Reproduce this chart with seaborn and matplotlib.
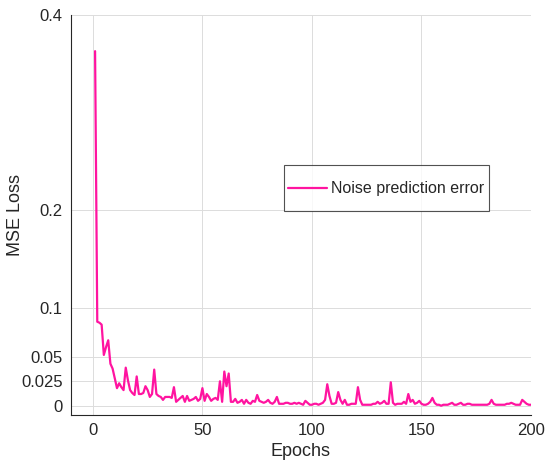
import numpy as np
import pandas as pd
import matplotlib
matplotlib.use("Agg")
import matplotlib.pyplot as plt
from matplotlib.legend_handler import HandlerLine2D
import seaborn as sns

# MSE loss per epoch
epochs = list(range(1, 201))
loss = [
    0.363, 0.086, 0.085, 0.083, 0.052, 0.060, 0.067, 0.043, 0.038, 0.028,
    0.018, 0.023, 0.019, 0.016, 0.039, 0.026, 0.016, 0.013, 0.011, 0.030,
    0.012, 0.012, 0.013, 0.020, 0.016, 0.009, 0.012, 0.037, 0.012, 0.010,
    0.009, 0.006, 0.009, 0.009, 0.009, 0.008, 0.019, 0.004, 0.006, 0.008,
    0.010, 0.004, 0.010, 0.005, 0.006, 0.007, 0.009, 0.005, 0.007, 0.018,
    0.005, 0.012, 0.009, 0.005, 0.007, 0.008, 0.006, 0.025, 0.004, 0.035,
    0.020, 0.033, 0.004, 0.004, 0.007, 0.003, 0.004, 0.006, 0.002, 0.006,
    0.003, 0.002, 0.005, 0.004, 0.011, 0.005, 0.004, 0.003, 0.004, 0.006,
    0.003, 0.002, 0.004, 0.009, 0.002, 0.002, 0.002, 0.003, 0.003, 0.002,
    0.002, 0.003, 0.002, 0.003, 0.002, 0.001, 0.005, 0.003, 0.001, 0.001,
    0.002, 0.002, 0.001, 0.002, 0.003, 0.006, 0.022, 0.010, 0.002, 0.002,
    0.003, 0.014, 0.006, 0.002, 0.006, 0.001, 0.001, 0.002, 0.002, 0.002,
    0.019, 0.006, 0.001, 0.001, 0.001, 0.001, 0.001, 0.002, 0.002, 0.004,
    0.002, 0.003, 0.005, 0.002, 0.002, 0.024, 0.003, 0.001, 0.002, 0.002,
    0.002, 0.004, 0.002, 0.012, 0.004, 0.006, 0.002, 0.003, 0.005, 0.002,
    0.001, 0.001, 0.002, 0.004, 0.008, 0.003, 0.001, 0.001, 0.000, 0.001,
    0.001, 0.001, 0.002, 0.003, 0.001, 0.001, 0.002, 0.003, 0.001, 0.001,
    0.002, 0.002, 0.001, 0.001, 0.001, 0.001, 0.001, 0.001, 0.001, 0.001,
    0.002, 0.006, 0.002, 0.001, 0.001, 0.001, 0.001, 0.001, 0.002, 0.002,
    0.003, 0.002, 0.001, 0.001, 0.001, 0.006, 0.004, 0.002, 0.001, 0.001,
]
series_name = "Noise prediction error"
x_ticks = [0, 50, 100, 150, 200]
y_ticks = [0, 0.025, 0.05, 0.1, 0.2, 0.4]
y_tick_labels = ["0", "0.025", "0.05", "0.1", "0.2", "0.4"]


class LoweredLine(HandlerLine2D):
    # a tall legend row puts the handle above the text; move it down to the text
    def create_artists(self, legend, orig_handle, xdescent, ydescent,
                       width, height, fontsize, trans):
        artists = super().create_artists(legend, orig_handle, xdescent, ydescent,
                                         width, height, fontsize, trans)
        for a in artists:
            a.set_ydata(np.asarray(a.get_ydata()) - 0.45 * fontsize)
        return artists


df = pd.DataFrame({"Epochs": epochs, "MSE Loss": loss, "series": series_name})

sns.set_style("white")
plt.rcParams["font.family"] = ["Liberation Sans", "DejaVu Sans"]

fig = plt.figure(figsize=(5.46, 4.62), dpi=100)
ax = fig.add_axes([0.130, 0.1017, 0.8425, 0.8658])

sns.lineplot(data=df, x="Epochs", y="MSE Loss", hue="series",
             palette=["#ff14a0"], linewidth=1.6, ax=ax)

ax.set_xlim(-10, 200)
ax.set_ylim(-0.0095, 0.4)
ax.set_xticks(x_ticks)
ax.set_yticks(y_ticks)
ax.set_yticklabels(y_tick_labels)

ax.grid(True, color="#dcdcdc", linewidth=0.7)
ax.set_axisbelow(True)
for side in ["top", "right"]:
    ax.spines[side].set_visible(False)
for side in ["left", "bottom"]:
    ax.spines[side].set_color("#262626")
    ax.spines[side].set_linewidth(0.8)

ax.tick_params(direction="in", length=4, width=0.8, color="#262626",
               labelsize=12, labelcolor="#262626", pad=6)
ax.set_xlabel("Epochs", fontsize=13, color="#262626")
ax.set_ylabel("MSE Loss", fontsize=13, color="#262626")
ax.yaxis.set_label_coords(-0.102, 0.5)
ax.xaxis.set_label_coords(0.5, -0.07)

handles, labels = ax.get_legend_handles_labels()
leg = ax.legend(handles, labels, loc="center", bbox_to_anchor=(0.685, 0.5675),
                fontsize=11.5, frameon=True, fancybox=False, handlelength=2.4,
                handleheight=3.1, borderpad=0.3, handletextpad=0.25,
                handler_map={handles[0]: LoweredLine()})
leg.get_frame().set_edgecolor("#262626")
leg.get_frame().set_linewidth(0.8)

fig.savefig("out.png", dpi=100)
